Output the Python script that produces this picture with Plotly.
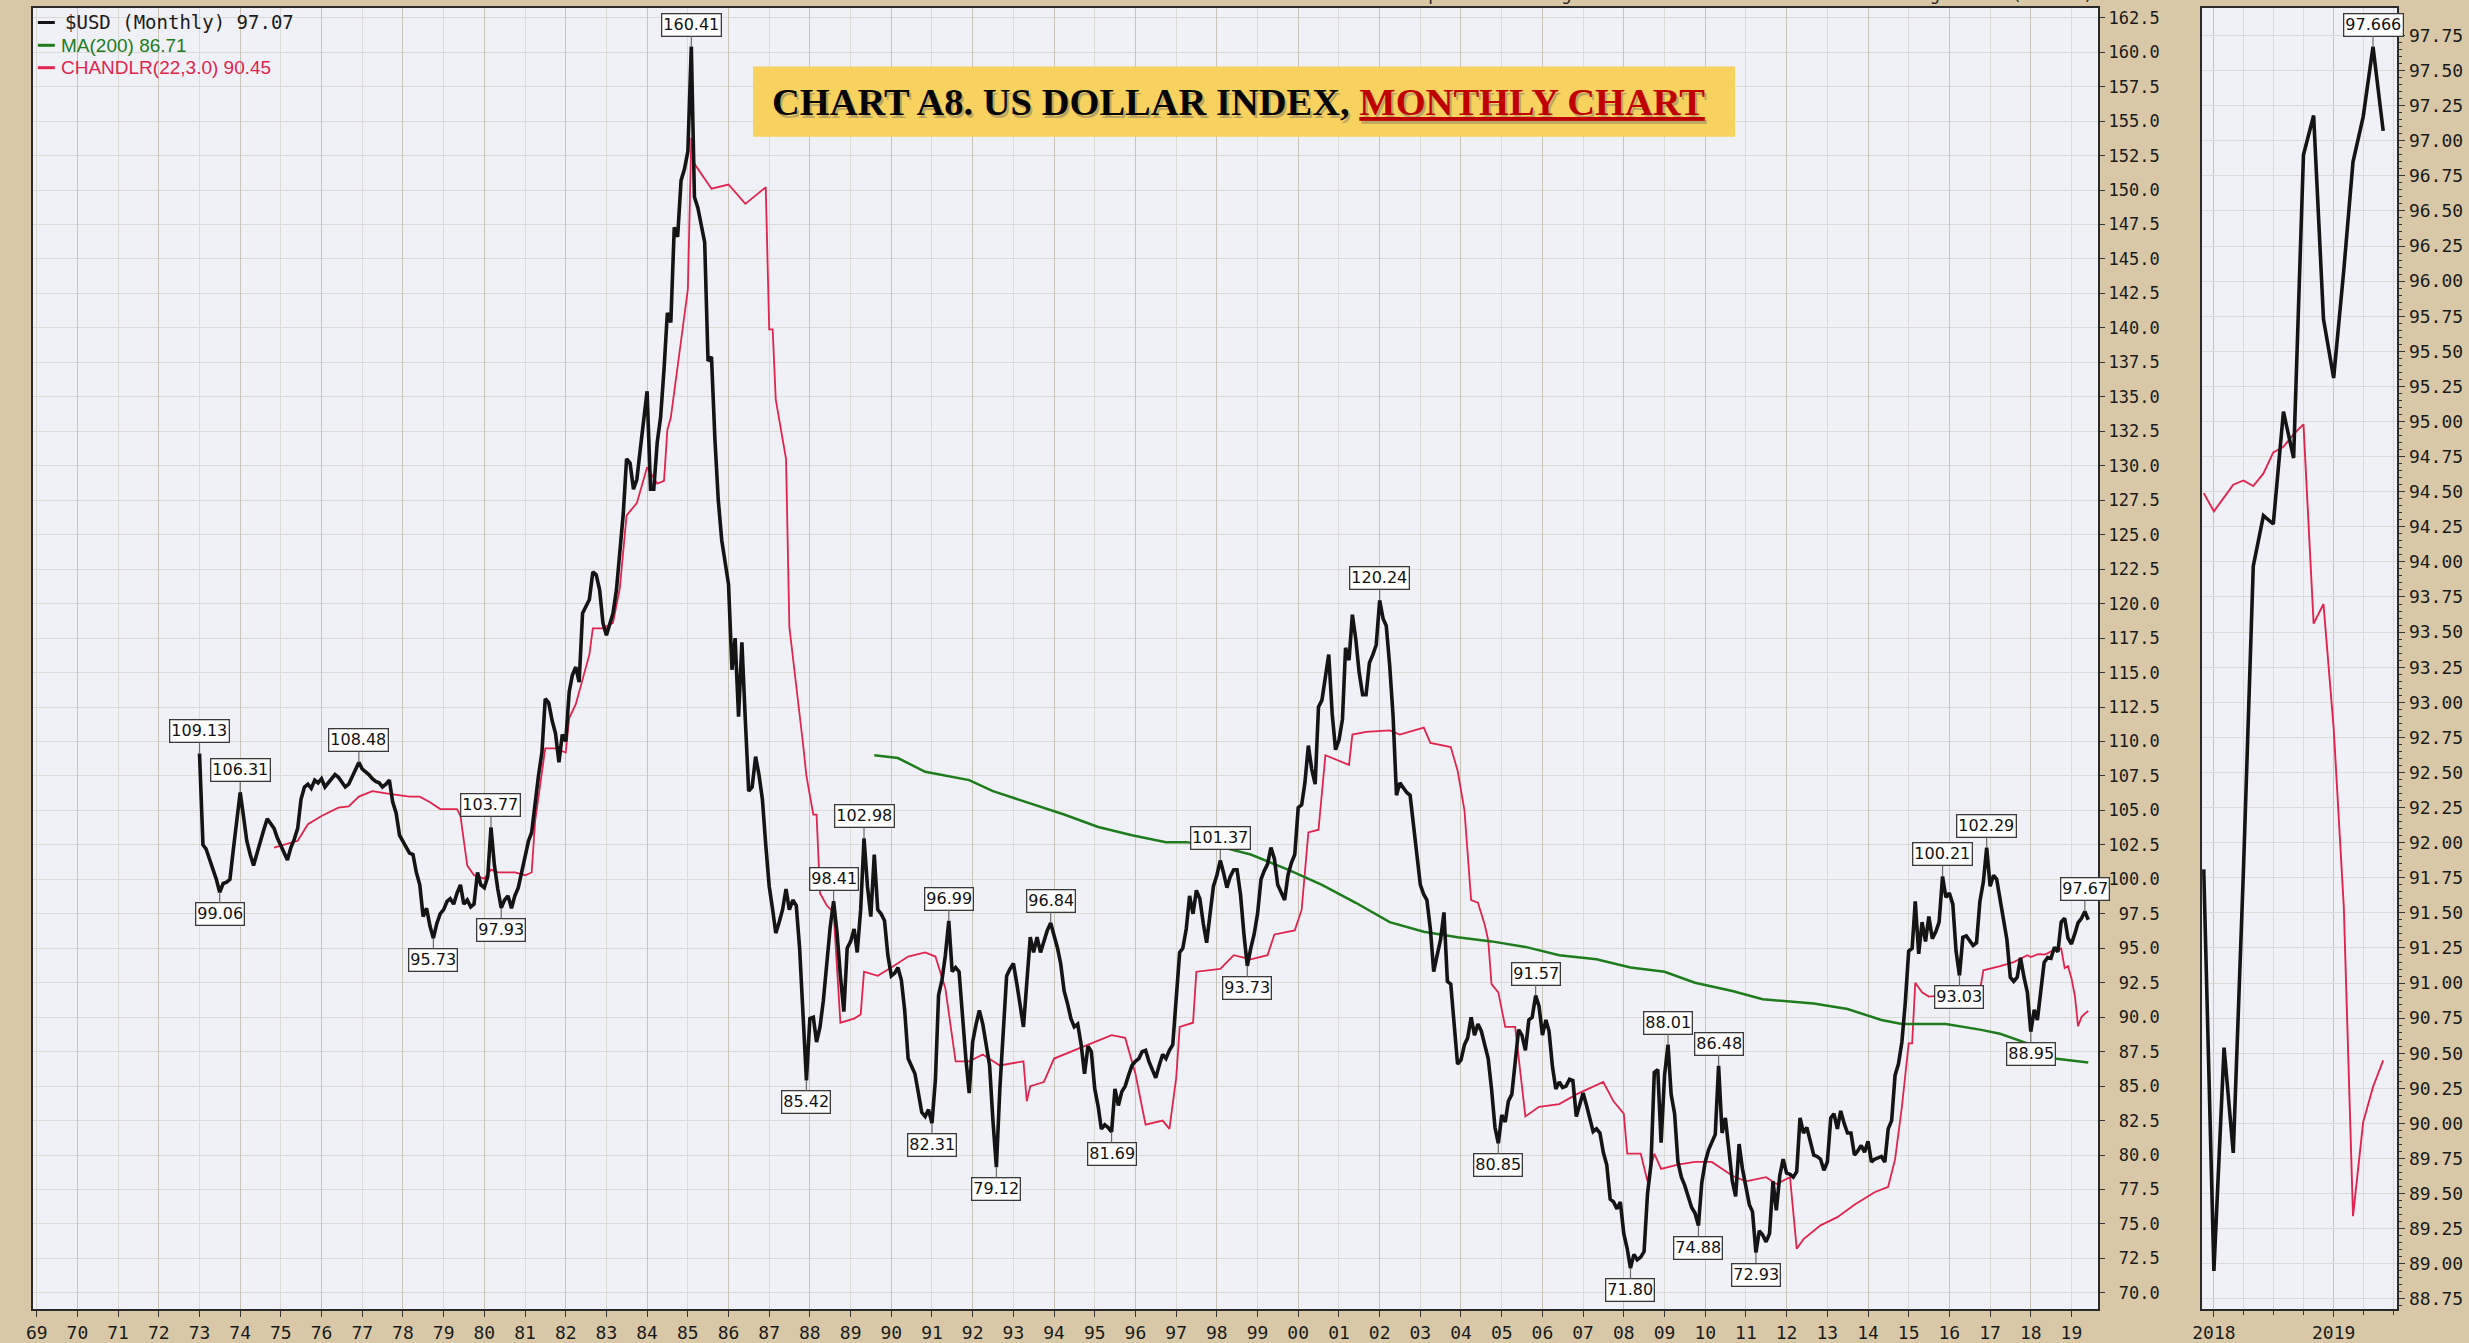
import numpy as np
import pandas as pd
import plotly.graph_objects as go

W, H = 2469, 1343

# ---------------- data ----------------
usd_close = [
    109.13, 102.5, 102.2, 101.5, 100.8, 100.0, 99.06, 99.7, 99.8, 100.0, 102.2, 104.2,      # 1973
    106.31, 104.5, 102.8, 101.8, 101.0, 101.9, 102.8, 103.6, 104.4, 104.1, 103.7, 103.0,    # 1974
    102.4, 101.8, 101.4, 102.3, 102.9, 103.7, 105.8, 106.7, 106.9, 106.6, 107.2, 107.0,     # 1975
    107.3, 106.7, 107.0, 107.3, 107.6, 107.4, 107.0, 106.7, 106.9, 107.4, 107.9, 108.48,    # 1976
    108.0, 107.8, 107.6, 107.3, 107.1, 107.0, 106.7, 106.9, 107.2, 105.6, 104.8, 103.2,     # 1977
    102.8, 102.3, 101.9, 101.8, 100.5, 99.6, 97.3, 97.9, 96.6, 95.73, 96.8, 97.5,           # 1978
    97.8, 98.4, 98.6, 98.2, 99.0, 99.6, 98.2, 98.5, 98.0, 98.2, 100.5, 99.6,                # 1979
    99.4, 100.2, 103.77, 101.0, 99.3, 97.93, 98.5, 98.8, 97.9, 98.8, 99.4, 100.5,           # 1980
    101.6, 102.8, 103.4, 105.6, 107.5, 109.2, 113.1, 112.8, 111.5, 110.6, 108.5, 110.5,     # 1981
    110.0, 113.6, 114.8, 115.4, 114.3, 119.3, 119.8, 120.3, 122.3, 122.1, 121.0, 118.6,     # 1982
    117.7, 118.6, 119.3, 121.0, 123.4, 126.5, 130.5, 130.2, 128.3, 129.0, 131.2, 133.2,     # 1983
    135.4, 128.3, 128.3, 131.7, 133.5, 137.0, 141.1, 140.4, 147.3, 146.6, 150.7, 151.5,     # 1984
    152.8, 160.41, 149.5, 148.7, 147.5, 146.2, 137.6, 137.9, 131.9, 127.5, 124.6, 123.0,    # 1985
    121.4, 115.2, 117.5, 111.8, 117.2, 111.5, 106.4, 106.7, 108.9, 107.6, 105.8, 102.5,     # 1986
    99.5, 97.8, 96.1, 96.9, 97.8, 99.3, 97.8, 98.5, 98.1, 95.0, 89.9, 85.42,                # 1987
    89.9, 90.0, 88.2, 89.3, 91.2, 93.9, 96.5, 98.41, 96.1, 93.0, 90.4, 95.0,                # 1988
    95.5, 96.4, 94.7, 97.8, 102.98, 99.5, 97.3, 101.8, 97.8, 97.5, 97.0, 94.5,              # 1989
    93.0, 93.2, 93.6, 92.7, 90.5, 87.0, 86.5, 85.9, 84.5, 83.1, 82.8, 83.3,                 # 1990
    82.31, 85.5, 91.6, 92.7, 94.5, 96.99, 93.3, 93.6, 93.3, 89.9, 87.0, 84.5,               # 1991
    88.2, 89.5, 90.5, 89.5, 88.0, 86.5, 82.5, 79.12, 84.8, 89.0, 93.0, 93.5,                # 1992
    93.9, 92.4, 91.0, 89.3, 92.5, 95.8, 94.7, 95.8, 94.7, 95.5, 96.3, 96.84,                # 1993
    96.0, 95.0, 93.9, 91.9, 91.0, 89.9, 89.3, 89.5, 88.0, 85.9, 87.9, 87.5,                 # 1994
    84.8, 83.5, 81.9, 82.2, 82.0, 81.69, 84.8, 83.6, 84.6, 85.0, 85.8, 86.5,                # 1995
    86.8, 87.0, 87.5, 87.6, 86.8, 86.2, 85.6, 86.5, 87.3, 87.0, 87.6, 88.0,                 # 1996
    91.6, 94.7, 95.0, 96.4, 98.8, 97.5, 99.2, 98.6, 96.8, 95.4, 97.5, 99.5,                 # 1997
    100.3, 101.37, 100.5, 99.4, 100.2, 100.7, 100.7, 98.9, 96.0, 93.73, 95.0, 96.0,         # 1998
    97.5, 100.0, 100.6, 101.1, 102.3, 101.5, 99.6, 99.0, 98.5, 100.3, 101.2, 101.8,         # 1999
    105.2, 105.4, 107.0, 109.7, 108.0, 106.9, 112.5, 113.0, 114.6, 116.3, 112.0, 109.4,     # 2000
    110.1, 111.6, 116.8, 115.9, 119.2, 117.4, 115.0, 113.4, 113.4, 115.7, 116.3, 117.0,     # 2001
    120.24, 118.9, 118.4, 115.5, 111.9, 106.1, 107.0, 106.6, 106.3, 106.1, 104.0, 102.0,    # 2002
    99.6, 98.9, 98.5, 96.4, 93.3, 94.5, 95.6, 97.6, 92.6, 92.4, 89.3, 86.6,                 # 2003
    86.9, 88.0, 88.5, 90.0, 88.7, 89.5, 89.0, 88.0, 87.0, 84.8, 82.0, 80.85,                # 2004
    82.9, 82.4, 83.9, 84.4, 86.8, 89.1, 88.7, 87.6, 89.8, 90.0, 91.57, 90.8,                # 2005
    88.7, 89.8, 89.0, 86.4, 84.8, 85.3, 84.9, 85.0, 85.5, 85.4, 82.8, 83.6,                 # 2006
    84.5, 83.6, 82.8, 81.7, 81.9, 81.6, 80.2, 79.3, 76.8, 76.6, 76.1, 76.6,                 # 2007
    74.3, 73.2, 71.80, 72.8, 72.4, 72.6, 73.0, 77.2, 79.3, 86.0, 86.2, 80.9,                # 2008
    85.8, 88.01, 84.4, 83.0, 79.5, 78.4, 77.8, 77.0, 76.2, 75.8, 74.88, 78.0,               # 2009
    79.5, 80.4, 81.0, 81.5, 86.48, 81.6, 82.7, 80.5, 78.1, 77.0, 80.8, 79.0,                # 2010
    77.8, 76.4, 75.9, 72.93, 74.5, 74.2, 73.7, 74.3, 78.1, 76.0, 78.5, 79.7,                # 2011
    78.7, 78.6, 78.4, 78.8, 82.7, 81.6, 82.0, 81.0, 80.0, 79.9, 79.7, 78.9,                 # 2012
    79.5, 82.7, 83.0, 81.9, 83.2, 82.3, 81.6, 81.6, 80.0, 80.3, 80.7, 80.2,                 # 2013
    81.0, 79.5, 79.7, 79.8, 79.9, 79.5, 81.9, 82.5, 85.8, 86.6, 88.2, 91.0,                 # 2014
    94.8, 95.0, 98.4, 94.6, 96.9, 95.5, 97.3, 95.7, 96.2, 96.9, 100.21, 98.7,               # 2015
    99.0, 98.2, 94.8, 93.03, 95.8, 95.9, 95.6, 95.2, 95.4, 98.4, 99.8, 102.29,              # 2016
    99.5, 100.3, 100.0, 98.4, 96.9, 95.6, 92.9, 92.6, 92.9, 94.3, 92.9, 91.81,              # 2017
    88.95, 90.54, 89.79, 91.8, 93.97, 94.33, 94.27, 95.07, 94.74, 96.90, 97.18, 95.73,      # 2018
    95.31, 96.08, 96.85, 97.17, 97.67, 97.07,                                               # 2019
]
first_month = "1973-01-01"

ma_dates = ["1989-08", "1990-03", "1990-11", "1991-12", "1992-07", "1993-06", "1994-04",
            "1995-02", "1995-12", "1996-10", "1997-04", "1998-03", "1998-11", "1999-10",
            "2000-08", "2001-06", "2002-04", "2003-02", "2003-12", "2004-10", "2005-08",
            "2006-06", "2007-05", "2008-03", "2009-01", "2009-10", "2010-09", "2011-06",
            "2012-09", "2013-07", "2014-05", "2014-11", "2015-12", "2016-10", "2017-04",
            "2017-12", "2018-08", "2019-06"]
ma_values = [109.0, 108.8, 107.8, 107.2, 106.4, 105.5, 104.7,
             103.8, 103.2, 102.7, 102.7, 102.3, 101.8, 100.7,
             99.6, 98.3, 96.9, 96.2, 95.8, 95.5, 95.1,
             94.5, 94.2, 93.6, 93.3, 92.5, 91.9, 91.3,
             91.0, 90.6, 89.8, 89.5, 89.5, 89.1, 88.8,
             88.1, 87.0, 86.71]

chand_dates = [
    "1974-11", "1975-06", "1975-09", "1976-01", "1976-06", "1976-09", "1976-12", "1977-04",
    "1977-09", "1978-03", "1978-06", "1978-09", "1978-12", "1979-05", "1979-06", "1979-08",
    "1979-10", "1980-01", "1980-03", "1980-05", "1980-10", "1981-01", "1981-03", "1981-04",
    "1981-07", "1981-10", "1982-01", "1982-02", "1982-04", "1982-06", "1982-08", "1982-09",
    "1982-12", "1983-03", "1983-05", "1983-07", "1983-10", "1984-01", "1984-04", "1984-06",
    "1984-07", "1984-08", "1984-10", "1984-12", "1985-01", "1985-02", "1985-03", "1985-08",
    "1986-01", "1986-06", "1986-12", "1987-01", "1987-02", "1987-03", "1987-06", "1987-07",
    "1987-11", "1987-12", "1988-02", "1988-03", "1988-04", "1988-06", "1988-08", "1988-10",
    "1989-02", "1989-04", "1989-05", "1989-09", "1990-01", "1990-06", "1990-11", "1991-02",
    "1991-05", "1991-08", "1991-12", "1992-04", "1992-09", "1993-04", "1993-05", "1993-06",
    "1993-10", "1994-01", "1994-10", "1995-06", "1995-10", "1996-01", "1996-04", "1996-09",
    "1996-11", "1997-01", "1997-02", "1997-06", "1997-07", "1998-02", "1998-06", "1998-11",
    "1999-04", "1999-06", "1999-12", "2000-02", "2000-04", "2000-07", "2000-09", "2001-02",
    "2001-04", "2001-05", "2001-09", "2002-04", "2002-07", "2003-02", "2003-04", "2003-10",
    "2003-12", "2004-02", "2004-04", "2004-06", "2004-08", "2004-09", "2004-10", "2004-12",
    "2005-02", "2005-05", "2005-07", "2005-08", "2005-12", "2006-06", "2006-11", "2007-07",
    "2007-10", "2008-01", "2008-02", "2008-06", "2008-08", "2008-10", "2008-12", "2009-05",
    "2009-10", "2010-03", "2010-09", "2011-01", "2011-07", "2011-10", "2012-02", "2012-04",
    "2012-06", "2012-11", "2013-04", "2013-09", "2014-03", "2014-07", "2014-09", "2014-11",
    "2015-01", "2015-02", "2015-03", "2015-05", "2015-07", "2015-12", "2016-06", "2016-10",
    "2016-11", "2017-04", "2017-08", "2017-12", "2018-01", "2018-02", "2018-03", "2018-04",
    "2018-05", "2018-06", "2018-07", "2018-08", "2018-09", "2018-10", "2018-11", "2018-12",
    "2019-01", "2019-02", "2019-03", "2019-04", "2019-05", "2019-06"]
chand_values = [
    102.3, 102.8, 104.0, 104.6, 105.2, 105.3, 106.0, 106.4,
    106.2, 106.0, 106.0, 105.6, 105.1, 105.1, 104.6, 101.0,
    100.3, 100.05, 100.7, 100.5, 100.5, 100.3, 100.5, 104.2,
    109.5, 109.5, 109.2, 111.7, 112.7, 114.5, 116.3, 118.2,
    118.2, 118.6, 121.1, 126.4, 127.3, 129.9, 128.7, 128.9,
    132.6, 133.5, 137.4, 140.9, 142.8, 153.8, 151.9, 150.1,
    150.4, 149.0, 150.2, 139.9, 139.9, 134.8, 130.5, 118.3,
    109.8, 107.5, 104.7, 104.7, 99.0, 98.1, 97.6, 89.6,
    89.9, 90.2, 93.3, 93.0, 93.6, 94.4, 94.7, 94.4,
    92.1, 86.8, 86.8, 87.3, 86.5, 86.8, 83.9, 85.0,
    85.3, 87.0, 87.9, 88.7, 88.5, 85.9, 82.2, 82.5,
    81.9, 85.6, 89.3, 89.6, 93.3, 93.5, 94.5, 94.2,
    94.5, 96.0, 96.3, 97.8, 103.4, 103.6, 109.0, 108.5,
    108.3, 110.5, 110.7, 110.8, 110.5, 111.0, 109.9, 109.6,
    107.9, 105.0, 98.5, 98.3, 96.7, 95.6, 92.4, 91.8,
    89.3, 89.3, 84.8, 82.8, 83.5, 83.7, 84.4, 85.3,
    83.9, 83.0, 80.1, 80.1, 78.1, 80.1, 79.0, 79.3,
    79.5, 79.5, 78.5, 78.1, 78.4, 77.9, 78.4, 73.2,
    73.9, 74.9, 75.5, 76.4, 77.3, 77.7, 79.7, 83.5,
    88.1, 88.1, 92.5, 91.8, 91.5, 91.6, 91.5, 91.9,
    93.4, 93.7, 94.0, 94.49, 94.36, 94.46, 94.55, 94.58,
    94.54, 94.63, 94.78, 94.82, 94.91, 94.98, 93.56, 93.70,
    92.82, 91.54, 89.34, 90.01, 90.26, 90.45]

# peak / trough call-outs (month, side)
label_months = ["1973-01", "1973-07", "1974-01", "1976-12", "1978-10", "1980-03", "1980-06",
                "1985-02", "1987-12", "1988-08", "1989-05", "1991-01", "1991-06", "1992-08",
                "1993-12", "1995-06", "1998-02", "1998-10", "2002-01", "2004-12", "2005-11",
                "2008-03", "2009-02", "2009-11", "2010-05", "2011-04", "2015-11", "2016-04",
                "2016-12", "2018-01", "2019-05"]
label_sides = ["up", "down", "up", "up", "down", "up", "down",
               "up", "down", "up", "up", "down", "up", "down",
               "up", "down", "up", "down", "up", "down", "up",
               "down", "up", "down", "up", "down", "up", "down",
               "up", "down", "up"]

zoom_start = "2017-12-01"
zoom_label_month = "2019-05"
zoom_label_text = "97.666"

legend_texts = ["$USD (Monthly) 97.07", "MA(200) 86.71", "CHANDLR(22,3.0) 90.45"]
title_black = "CHART A8. US DOLLAR INDEX, "
title_red = "MONTHLY CHART"
header_left = "14-Jun-2019"
header_right = "Open 97.70  High 97.72  Low 96.55  Close 97.07  Chg -0.60 (-0.62%)"

# ---------------- styles ----------------
BG = "#D9C8A8"
PLOT_BG = "#F0F1F7"
GRID = "#DBDBD8"
GRID_DARK = "#C8C5B8"
FRAME = "#2A2A2A"
BLACK = "#141414"
RED = "#E0244F"
GREEN = "#1E7B1E"
MONO = "DejaVu Sans Mono"

months = pd.date_range(first_month, periods=len(usd_close), freq="MS")
close = pd.Series(usd_close, index=months)
ma_x = pd.to_datetime([d + "-01" for d in ma_dates])
ch_x = pd.to_datetime([d + "-01" for d in chand_dates])
chand = pd.Series(chand_values, index=ch_x)

def px(xp):
    return xp / W

def py(yp):
    return 1 - yp / H

main_dom_x = [px(22.7), px(2096.7)]
zoom_dom_x = [px(2201), px(2397)]
dom_y = [py(1321), py(8)]

fig = go.Figure()

# main panel
fig.add_trace(go.Scatter(x=ch_x, y=chand.values, mode="lines",
                         line=dict(color=RED, width=1.8), xaxis="x", yaxis="y", hoverinfo="skip"))
fig.add_trace(go.Scatter(x=ma_x, y=ma_values, mode="lines",
                         line=dict(color=GREEN, width=2.5), xaxis="x", yaxis="y", hoverinfo="skip"))
fig.add_trace(go.Scatter(x=months, y=close.values, mode="lines",
                         line=dict(color=BLACK, width=3.6), xaxis="x", yaxis="y"))

# zoom panel
zc = close[close.index >= zoom_start]
zch = chand[chand.index >= zoom_start]
fig.add_trace(go.Scatter(x=zch.index, y=zch.values, mode="lines",
                         line=dict(color=RED, width=1.9), xaxis="x2", yaxis="y2", hoverinfo="skip"))
fig.add_trace(go.Scatter(x=zc.index, y=zc.values, mode="lines",
                         line=dict(color=BLACK, width=3.6), xaxis="x2", yaxis="y2"))

# dark even-year grid via an overlay axis
fig.add_trace(go.Scatter(x=[months[0]], y=[close.iloc[0]], mode="markers", marker=dict(opacity=0),
                         xaxis="x3", yaxis="y", hoverinfo="skip", showlegend=False))

main_ticks = np.arange(70.0, 162.51, 2.5)
main_ticktext = [f"{v:.1f}".rjust(5, "\u00a0") for v in main_ticks]

axis_common = dict(showline=True, mirror=True, linecolor=FRAME, linewidth=2,
                   ticks="outside", tickcolor="#333", zeroline=False)

fig.update_layout(
    width=W, height=H, autosize=False,
    margin=dict(l=0, r=0, t=0, b=0),
    paper_bgcolor=BG, plot_bgcolor=PLOT_BG,
    showlegend=False,
    xaxis=dict(domain=main_dom_x, anchor="y", type="date",
               range=["1968-11-25", "2019-08-29"],
               tick0="1969-01-01", dtick="M12", tickformat="%y",
               ticklen=6, showgrid=True, gridcolor=GRID, gridwidth=1,
               tickfont=dict(family=MONO, size=18, color="#1a1a1a"),
               **axis_common),
    xaxis3=dict(domain=main_dom_x, anchor="y", overlaying="x", type="date",
                range=["1968-11-25", "2019-08-29"],
                tick0="1970-01-01", dtick="M24", showticklabels=False,
                showgrid=True, gridcolor=GRID_DARK, gridwidth=1.4, ticks="",
                showline=False, zeroline=False),
    yaxis=dict(domain=dom_y, anchor="x", side="right",
               range=[68.82, 163.21],
               tickmode="array", tickvals=main_ticks, ticktext=main_ticktext,
               ticklen=5, showgrid=True, gridcolor=GRID, gridwidth=1,
               tickfont=dict(family=MONO, size=17, color="#1a1a1a"),
               **axis_common),
    xaxis2=dict(domain=zoom_dom_x, anchor="y2", type="date",
                range=["2017-11-26", "2019-07-14"],
                tick0="2018-01-01", dtick="M12", tickformat="%Y",
                ticklen=6, showgrid=True, gridcolor=GRID_DARK, gridwidth=1.4,
                minor=dict(dtick="M3", tick0="2018-01-01", showgrid=True, gridcolor=GRID,
                           ticks="outside", ticklen=4, tickcolor="#333"),
                tickfont=dict(family=MONO, size=18, color="#1a1a1a"),
                **axis_common),
    yaxis2=dict(domain=dom_y, anchor="x2", side="right",
                range=[88.677, 97.946],
                tick0=0, dtick=0.25, tickformat=".2f",
                ticklen=6, showgrid=True, gridcolor=GRID, gridwidth=1,
                minor=dict(dtick=0.05, ticks="outside", ticklen=3, tickcolor="#333", showgrid=False),
                tickfont=dict(family=MONO, size=18, color="#1a1a1a"),
                **axis_common),
)

# ---- call-out labels ----
label_font = dict(family="DejaVu Sans", size=16, color="#111")
for m, side in zip(label_months, label_sides):
    d = pd.Timestamp(m + "-01")
    v = close[d]
    fig.add_annotation(x=d, y=v, xref="x", yref="y", text=f"{v:.2f}",
                       showarrow=True, arrowhead=0, arrowwidth=1.2, arrowcolor="#6a6a6a",
                       ax=0, ay=-22 if side == "up" else 22, standoff=0,
                       bgcolor="white", bordercolor="#3a3a3a", borderwidth=1.3, borderpad=1,
                       font=label_font)

zd = pd.Timestamp(zoom_label_month + "-01")
fig.add_annotation(x=zd, y=close[zd], xref="x2", yref="y2", text=zoom_label_text,
                   showarrow=True, arrowhead=0, arrowwidth=1.2, arrowcolor="#6a6a6a",
                   ax=0, ay=-22, standoff=0,
                   bgcolor="white", bordercolor="#3a3a3a", borderwidth=1.3, borderpad=1,
                   font=label_font)

# ---- title box ----
fig.add_shape(type="rect", xref="paper", yref="paper",
              x0=px(746), x1=px(1732), y0=py(138), y1=py(67),
              fillcolor="#F8D25E", line=dict(width=0), layer="above")
fig.add_annotation(xref="paper", yref="paper", x=px(1233), y=py(103), xshift=2, yshift=-3,
                   xanchor="center", yanchor="middle",
                   text=f"<b>{title_black}<u>{title_red}</u></b>", showarrow=False,
                   font=dict(family="Liberation Serif", size=38.5, color="#666"), opacity=0.4)
fig.add_annotation(xref="paper", yref="paper", x=px(1233), y=py(103),
                   xanchor="center", yanchor="middle",
                   text=f"<b>{title_black}<span style='color:#C00000'><u>{title_red}</u></span></b>",
                   showarrow=False, font=dict(family="Liberation Serif", size=38.5, color="#050505"))

# ---- legend (top-left) ----
legend_colors = [BLACK, GREEN, RED]
legend_y = [22.7, 45.7, 68.3]
legend_x = [53, 49, 49]
legend_fonts = [dict(family=MONO, size=19, color="#1a1a1a"),
                dict(family="Liberation Sans", size=19, color=GREEN),
                dict(family="Liberation Sans", size=19, color=RED)]
for t, c, yy, xx, f in zip(legend_texts, legend_colors, legend_y, legend_x, legend_fonts):
    fig.add_shape(type="line", xref="paper", yref="paper", x0=px(28), x1=px(45),
                  y0=py(yy), y1=py(yy), line=dict(color=c, width=3), layer="above")
    fig.add_annotation(xref="paper", yref="paper", x=px(xx), y=py(yy), text=t,
                       xanchor="left", yanchor="middle", showarrow=False, font=f)

# ---- header text (cut off at the top edge, as in the reference) ----
fig.add_annotation(xref="paper", yref="paper", x=px(27), y=py(6), text=header_left,
                   xanchor="left", yanchor="bottom", showarrow=False,
                   font=dict(family=MONO, size=17, color="#222"))
fig.add_annotation(xref="paper", yref="paper", x=px(2094), y=py(6), text=header_right,
                   xanchor="right", yanchor="bottom", showarrow=False,
                   font=dict(family=MONO, size=17, color="#222"))

fig.write_html("out.html", config={"displayModeBar": False},
               post_script="document.body.style.margin='0';document.body.style.overflow='hidden';")
